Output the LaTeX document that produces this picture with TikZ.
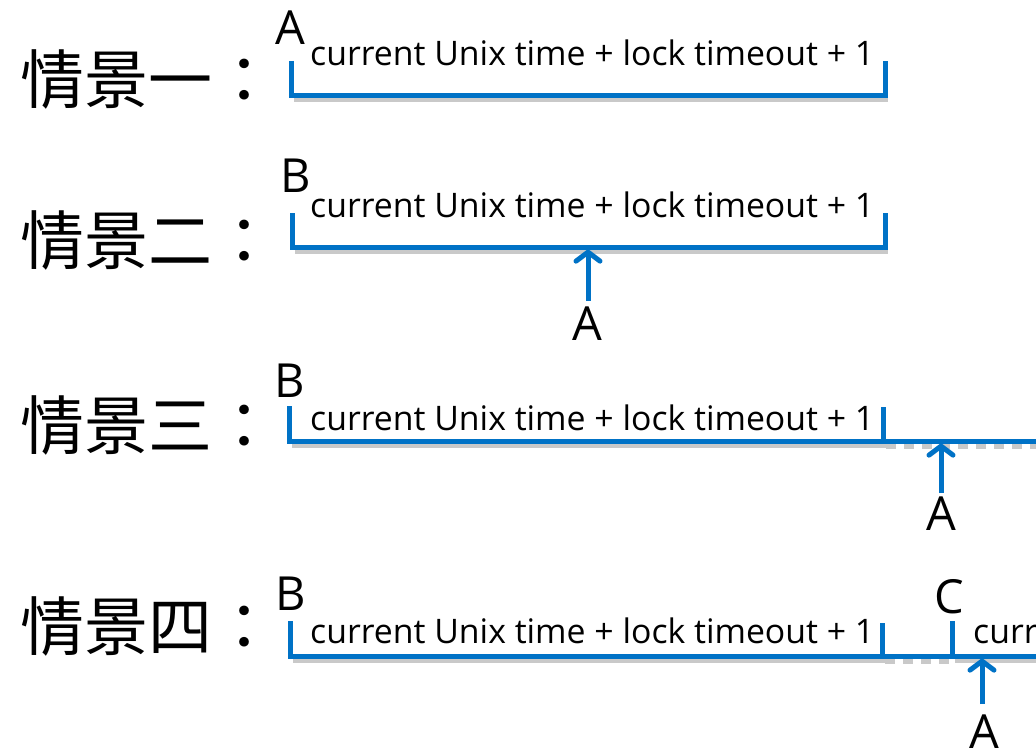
\documentclass[tikz,border=0pt]{standalone}
\usepackage{fontspec}
\setmainfont{Open Sans}
\newfontfamily\cjk{Noto Sans CJK TC}
\usetikzlibrary{arrows.meta}
\definecolor{lineblue}{RGB}{0,114,198}
\tikzset{
  bar/.style={draw=lineblue, line width=5pt, line cap=butt, line join=miter},
  shadowline/.style={draw=black!35, line width=5pt, opacity=0.6},
  dashshadow/.style={draw=black!35, line width=5pt, opacity=0.6, dash pattern=on 10pt off 8pt},
  uparrow/.style={draw=lineblue, line width=5pt, -{Straight Barb[length=9pt,width=24pt,line cap=round]}},
  formula/.style={font=\fontsize{33.8}{34}\selectfont, anchor=base west, inner sep=0pt},
  letter/.style={font=\fontsize{47}{47}\selectfont, anchor=base, inner sep=0pt},
  title/.style={font=\cjk\fontsize{64}{64}\selectfont, anchor=west, inner sep=0pt},
}
\begin{document}
\begin{tikzpicture}[x=1pt,y=-1pt]
\useasboundingbox (0,0) rectangle (1036,749);
\fill[white] (0,0) rectangle (1036,749);

% ---------- Scenario 1
\node[title] (t1) at (20,80) {情景一：};
\coordinate (s1a) at (291,61);
\coordinate (s1b) at (291,96);
\coordinate (s1c) at (885,96);
\coordinate (s1d) at (885,61);
\draw[shadowline] ([shift={(3,4)}]s1b) -- ([shift={(3,4)}]s1c);
\draw[bar] (s1a) -- (s1b) -- (s1c) -- (s1d);
\node[letter] (a1) at (290,45) {A};
\node[formula] (f1) at (310,66) {current Unix time + lock timeout + 1};

% ---------- Scenario 2
\node[title] (t2) at (20,240) {情景二：};
\coordinate (s2a) at (292,213);
\coordinate (s2b) at (292,247);
\coordinate (s2c) at (885,247);
\coordinate (s2d) at (885,213);
\draw[shadowline] ([shift={(3,4)}]s2b) -- ([shift={(3,4)}]s2c);
\draw[bar] (s2a) -- (s2b) -- (s2c) -- (s2d);
\node[letter] (b2) at (296,193) {B};
\node[formula] (f2) at (310,217) {current Unix time + lock timeout + 1};
\coordinate (p2) at (588,249);
\coordinate (q2) at (588,301);
\draw[uparrow] (q2) -- (p2);
\node[letter] (a2) at (587,340) {A};

% ---------- Scenario 3
\node[title] (t3) at (20,425) {情景三：};
\coordinate (s3a) at (289,406);
\coordinate (s3b) at (289,441);
\coordinate (s3c) at (883,441);
\coordinate (s3d) at (883,407);
\coordinate (s3e) at (1040,441);
\draw[shadowline] ([shift={(3,4)}]s3b) -- ([shift={(3,4)}]s3c);
\draw[dashshadow] ([shift={(3,5)}]s3c) -- ([shift={(3,5)}]s3e);
\draw[bar] (s3a) -- (s3b) -- (s3c) -- (s3d);
\draw[bar] (s3c) -- (s3e);
\node[letter] (b3) at (290,397) {B};
\node[formula] (f3) at (310,430) {current Unix time + lock timeout + 1};
\coordinate (p3) at (941,443);
\coordinate (q3) at (941,493);
\draw[uparrow] (q3) -- (p3);
\node[letter] (a3) at (941,530) {A};

% ---------- Scenario 4
\node[title] (t4) at (20,626) {情景四：};
\coordinate (s4a) at (290,621);
\coordinate (s4b) at (290,656);
\coordinate (s4c) at (882,656);
\coordinate (s4d) at (882,623);
\coordinate (s4e) at (952,656);
\coordinate (s4f) at (952,621);
\coordinate (s4g) at (1040,656);
\draw[shadowline] ([shift={(3,4)}]s4b) -- ([shift={(3,4)}]s4c);
\draw[dashshadow] ([shift={(3,5)}]s4c) -- ([shift={(3,5)}]s4e);
\draw[shadowline] ([shift={(3,4)}]s4e) -- ([shift={(3,4)}]s4g);
\draw[bar] (s4a) -- (s4b) -- (s4c) -- (s4d);
\draw[bar] (s4c) -- (s4e) -- (s4f);
\draw[bar] (s4e) -- (s4g);
\node[letter] (b4) at (291,610) {B};
\node[letter] (c4) at (949,613) {C};
\node[formula] (f4) at (310,643) {current Unix time + lock timeout + 1};
\node[formula] (f5) at (973,643) {current Unix time + lock timeout + 1};
\coordinate (p4) at (982,658);
\coordinate (q4) at (982,704);
\draw[uparrow] (q4) -- (p4);
\node[letter] (a4) at (984,748) {A};
\end{tikzpicture}
\end{document}
